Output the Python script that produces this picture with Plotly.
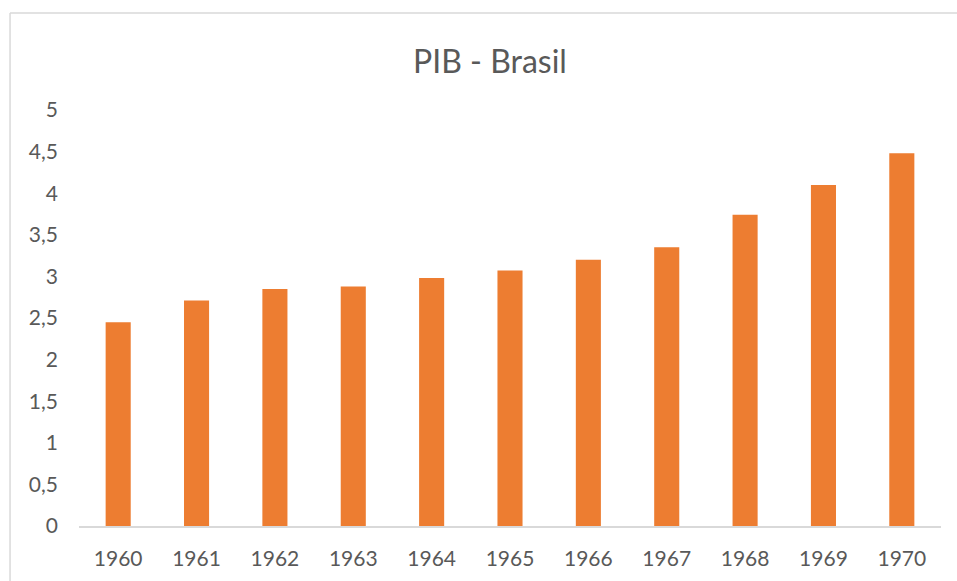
import plotly.graph_objects as go

years = ["1960", "1961", "1962", "1963", "1964", "1965", "1966", "1967", "1968", "1969", "1970"]
pib = [2.45, 2.71, 2.85, 2.88, 2.98, 3.07, 3.20, 3.35, 3.74, 4.10, 4.48]
y_tick_vals = [0, 0.5, 1, 1.5, 2, 2.5, 3, 3.5, 4, 4.5, 5]
y_tick_text = ["0", "0,5", "1", "1,5", "2", "2,5", "3", "3,5", "4", "4,5", "5"]

FONT = "Lato, 'Open Sans', sans-serif"
GREY_TEXT = "#595959"
BORDER = "#d9d9d9"

fig = go.Figure()
fig.add_trace(go.Bar(
    x=years, y=pib,
    marker=dict(color="#ED7D31", line=dict(width=0)),
    width=0.32,
))

W, H = 957, 581
fig.update_layout(
    width=W, height=H,
    margin=dict(l=79, r=16, t=110, b=55),
    paper_bgcolor="white", plot_bgcolor="white",
    showlegend=False,
    separators=",.",
    font=dict(family=FONT, color=GREY_TEXT),
    title=dict(text="PIB - Brasil", x=490 / W, xref="container", xanchor="center",
               y=1 - 62 / H, yref="container", yanchor="middle",
               font=dict(family=FONT, size=32, color=GREY_TEXT)),
    xaxis=dict(type="category", showgrid=False, showline=True, linecolor=BORDER,
               linewidth=1.5, ticks="", tickfont=dict(size=21, color=GREY_TEXT),
               ticklabelstandoff=13, zeroline=False, automargin=False),
    yaxis=dict(range=[0, 5], tickvals=y_tick_vals, ticktext=y_tick_text,
               showgrid=False, showline=False, zeroline=False, ticks="",
               tickfont=dict(size=21, color=GREY_TEXT), ticklabelstandoff=20,
               automargin=False),
    shapes=[
        dict(type="line", xref="paper", yref="paper",
             x0=-0.080, x1=-0.080, y0=-0.2, y1=1.2332,
             line=dict(color=BORDER, width=1.5), layer="below"),
        dict(type="line", xref="paper", yref="paper",
             x0=-0.080, x1=1.2, y0=1.2332, y1=1.2332,
             line=dict(color=BORDER, width=1.5), layer="below"),
    ],
)

fig.write_html(
    "out.html",
    config={"displayModeBar": False},
    post_script="document.documentElement.style.overflow='hidden';"
                "document.body.style.margin='0';document.body.style.overflow='hidden';",
)
